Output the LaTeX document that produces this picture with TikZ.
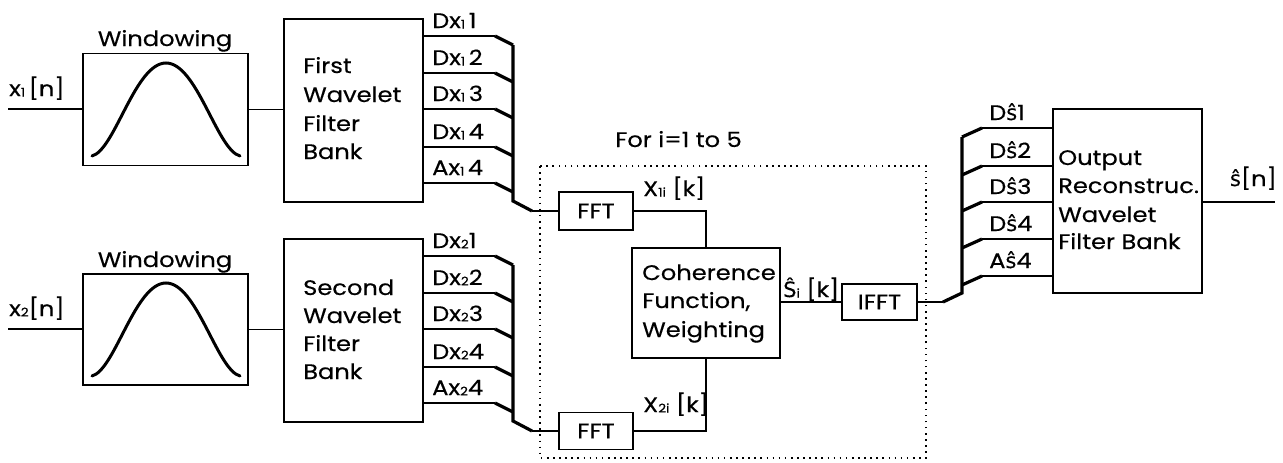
\documentclass[tikz,border=0pt]{standalone}
\usepackage{fontspec}
\setmainfont{Poppins}[FakeStretch=1.15, FakeBold=0.4]
\newfontfamily\hatfont{DejaVu Sans}[FakeBold=0.2]
\newcommand\mysub[1]{\raisebox{-0.5pt}{\fontsize{12}{12}\selectfont #1}}
\newcommand\hs{{\hatfont ŝ}}
\newcommand\hS{{\hatfont Ŝ}}
\begin{document}
\begin{tikzpicture}[x=1pt,y=-1pt,
  box/.style={draw, line width=1.6pt, inner sep=0pt},
  wire/.style={line width=1.6pt},
  bus/.style={line width=3.2pt, line join=miter},
  curve/.style={line width=3pt, line cap=round},
  lbl/.style={font=\fontsize{21}{21}\selectfont, inner sep=0pt}]
\useasboundingbox (0,0) rectangle (1283,463);

% blocks
\node[box, minimum width=165pt, minimum height=112pt] (win1) at (165.5,109.5) {};
\node[box, minimum width=139pt, minimum height=183pt] (wav1) at (353.5,110.5) {};
\node[box, minimum width=165pt, minimum height=111pt] (win2) at (165.5,329.5) {};
\node[box, minimum width=139pt, minimum height=183pt] (wav2) at (353.5,330.5) {};
\node[box, minimum width=74pt, minimum height=38pt] (fft1) at (596,211) {};
\node[box, minimum width=74pt, minimum height=37pt] (fft2) at (596,431) {};
\node[box, minimum width=148pt, minimum height=110pt] (coh) at (706,303) {};
\node[box, minimum width=75pt, minimum height=36pt] (ifft) at (879.5,302) {};
\node[box, minimum width=149pt, minimum height=184pt] (out) at (1127.5,201) {};

\node[lbl] (fftt1) at (fft1.center) {FFT};
\node[lbl] (fftt2) at (fft2.center) {FFT};
\node[lbl] (ifftt) at (ifft.center) {IFFT};

% texts in boxes (one node per line, placed on its baseline)
\foreach \t/\y [count=\i] in {First/73,Wavelet/102,Filter/131,Bank/159}
  \node[lbl, anchor=base west] (wa\i) at (303,\y) {\t};
\foreach \t/\y [count=\i] in {Second/295,Wavelet/323,Filter/351,Bank/379}
  \node[lbl, anchor=base west] (wb\i) at (303,\y) {\t};
\foreach \t/\y [count=\i] in {Coherence/280,{Function,}/308,Weighting/337}
  \node[lbl, anchor=base west] (co\i) at (642,\y) {\t};
\foreach \t/\y [count=\i] in {Output/165,Reconstruc./193,Wavelet/222,Filter Bank/249}
  \node[lbl, anchor=base west] (ou\i) at (1058,\y) {\t};

% window curves
\draw[curve] (92,156) .. controls (115,150) and (135,63) .. (166,63) .. controls (197,63) and (217,150) .. (240,156);
\draw[curve] (92,376) .. controls (115,370) and (135,283) .. (166,283) .. controls (197,283) and (217,370) .. (240,376);

% labels
\node[lbl, anchor=base] (wl1) at (165,46) {Windowing};
\node[lbl, anchor=base] (wl2) at (165,267) {Windowing};
\node[lbl, anchor=base west] (x1l) at (9,96) {x\mysub{1}\,[n]};
\node[lbl, anchor=base west] (x2l) at (9,316) {x\mysub{2}[n]};
\node[lbl, anchor=base west] (forl) at (615,147) {For i=1 to 5};
\node[lbl, anchor=base west] (x1il) at (643,196) {X\mysub{1i} [k]};
\node[lbl, anchor=base west] (x2il) at (643,412) {X\mysub{2i} [k]};
\node[lbl, anchor=base west] (sil) at (783,297) {\hS\mysub{i} [k]};
\node[lbl, anchor=base east] (snl) at (1277,186) {\hs[n]};

% inputs
\coordinate (in1) at (8,109);
\coordinate (in2) at (8,329);
\draw[wire] (in1) -- (in1 -| win1.west);
\draw[wire] (in2) -- (in2 -| win2.west);
\draw[wire] (win1.east) -- (win1.east -| wav1.west);
\draw[wire] (win2.east) -- (win2.east -| wav2.west);

% first bank outputs
\foreach \y/\t [count=\i] in {36/Dx\mysub{1}\,1,73/Dx\mysub{1}\,2,109/Dx\mysub{1}\,3,147/Dx\mysub{1}\,4,183/Ax\mysub{1}\,4}{
  \coordinate (a\i) at (495,\y);
  \coordinate (b\i) at (513,\y+9);
  \draw[wire] (wav1.east |- a\i) -- (a\i);
  \draw[bus] (a\i) -- (b\i);
  \node[lbl, anchor=base west] (la\i) at (432,\y-8) {\t};
}
\coordinate (abot) at (513,201);
\coordinate (aend) at (532,211);
\draw[bus] (b1) -- (abot) -- (aend);
\draw[wire] (aend) -- (fft1.west);

% second bank outputs
\foreach \y/\t [count=\i] in {256/Dx\mysub{2}1,293/Dx\mysub{2}2,329/Dx\mysub{2}3,367/Dx\mysub{2}4,403/Ax\mysub{2}4}{
  \coordinate (c\i) at (495,\y);
  \coordinate (d\i) at (513,\y+9);
  \draw[wire] (wav2.east |- c\i) -- (c\i);
  \draw[bus] (c\i) -- (d\i);
  \node[lbl, anchor=base west] (lc\i) at (432,\y-8) {\t};
}
\coordinate (cbot) at (513,421);
\coordinate (cend) at (532,431);
\draw[bus] (d1) -- (cbot) -- (cend);
\draw[wire] (cend) -- (fft2.west);

% middle
\draw[wire] (fft1.east) -| (coh.north);
\draw[wire] (fft2.east) -| (coh.south);
\draw[wire] (coh.east |- ifft.west) -- (ifft.west);

% output bus
\coordinate (o0) at (943,302);
\coordinate (obot) at (962,293);
\draw[wire] (ifft.east) -- (o0);
\foreach \y/\t [count=\i] in {128/D\hs1,166/D\hs2,202/D\hs3,239/D\hs4,276/A\hs4}{
  \coordinate (e\i) at (962,\y+9);
  \coordinate (f\i) at (982,\y);
  \draw[bus] (e\i) -- (f\i);
  \draw[wire] (f\i) -- (out.west |- f\i);
  \node[lbl, anchor=base west] (le\i) at (989,\y-8) {\t};
}
\draw[bus] (o0) -- (obot) -- (e1);
\coordinate (sout) at (1275,202);
\draw[wire] (out.east |- sout) -- (sout);

% dotted frame
\draw[line width=1.6pt, dash pattern=on 1.6pt off 4.5pt] (540,166) rectangle (926,458);
\end{tikzpicture}
\end{document}
